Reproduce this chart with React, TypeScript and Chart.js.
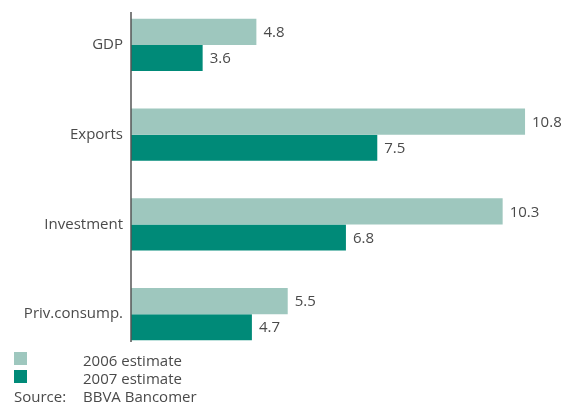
import React, { useEffect, useRef } from "react";
import { Chart, registerables } from "chart.js";

Chart.register(...registerables);

const categories = ["GDP", "Exports", "Investment", "Priv.consump."];
const estimate2006 = [4.8, 10.8, 10.3, 5.5];
const estimate2007 = [3.6, 7.5, 6.8, 4.7];
const seriesNames = ["2006 estimate", "2007 estimate"];
const sourceText = ["Source:", "BBVA Bancomer"];

const LIGHT = "#9ec7be";
const DARK = "#008a78";
const TEXT = "#4a4a4a";
const FONT = "'Open Sans', 'DejaVu Sans', sans-serif";

const valueLabels = {
  id: "valueLabels",
  afterDatasetsDraw(chart: any) {
    const ctx = chart.ctx;
    ctx.save();
    ctx.font = `15px ${FONT}`;
    ctx.fillStyle = TEXT;
    ctx.textAlign = "left";
    ctx.textBaseline = "middle";
    chart.data.datasets.forEach((ds: any, i: number) => {
      const meta = chart.getDatasetMeta(i);
      meta.data.forEach((bar: any, j: number) => {
        ctx.fillText(Number(ds.data[j]).toFixed(1), bar.x + 7, bar.y + 1);
      });
    });
    ctx.restore();
  },
};

const axisLine = {
  id: "axisLine",
  afterDatasetsDraw(chart: any) {
    const ctx = chart.ctx;
    const x = chart.chartArea.left;
    ctx.save();
    ctx.strokeStyle = "#555";
    ctx.lineWidth = 1.5;
    ctx.beginPath();
    ctx.moveTo(x, 12);
    ctx.lineTo(x, 342);
    ctx.stroke();
    ctx.restore();
  },
};

export default function App() {
  const ref = useRef<HTMLCanvasElement>(null);
  useEffect(() => {
    if (!ref.current) return;
    const chart = new Chart(ref.current, {
      type: "bar",
      data: {
        labels: categories,
        datasets: [
          { label: seriesNames[0], data: estimate2006, backgroundColor: LIGHT, categoryPercentage: 0.58, barPercentage: 1 },
          { label: seriesNames[1], data: estimate2007, backgroundColor: DARK, categoryPercentage: 0.58, barPercentage: 1 },
        ],
      },
      options: {
        indexAxis: "y",
        animation: false,
        responsive: false,
        maintainAspectRatio: false,
        layout: { padding: { top: 0, right: 27, bottom: 43, left: 0 } },
        plugins: { legend: { display: false }, tooltip: { enabled: false } },
        scales: {
          x: { display: false, min: 2, max: 11 },
          y: {
            grid: { display: false, drawTicks: false },
            border: { display: false },
            ticks: { color: TEXT, font: { family: FONT, size: 15 }, padding: 8 },
            afterFit(scale: any) {
              scale.width = 131;
              scale.paddingTop = 0;
              scale.paddingBottom = 0;
            },
          },
        },
      },
      plugins: [valueLabels, axisLine],
    });
    return () => chart.destroy();
  }, []);

  const txt: React.CSSProperties = {
    position: "absolute",
    fontFamily: FONT,
    fontSize: 15,
    color: TEXT,
    lineHeight: "18px",
    whiteSpace: "nowrap",
  };
  return (
    <div style={{ position: "absolute", left: 0, top: 0, width: 561, height: 402, background: "#fff" }}>
      <canvas ref={ref} width={561} height={402} style={{ position: "absolute", left: 0, top: 0 }} />
      <div style={{ position: "absolute", left: 14, top: 352, width: 13, height: 13, background: LIGHT }} />
      <div style={{ position: "absolute", left: 14, top: 370, width: 13, height: 13, background: DARK }} />
      <div style={{ ...txt, left: 83, top: 351 }}>{seriesNames[0]}</div>
      <div style={{ ...txt, left: 83, top: 369 }}>{seriesNames[1]}</div>
      <div style={{ ...txt, left: 14, top: 387 }}>{sourceText[0]}</div>
      <div style={{ ...txt, left: 83, top: 387 }}>{sourceText[1]}</div>
    </div>
  );
}
